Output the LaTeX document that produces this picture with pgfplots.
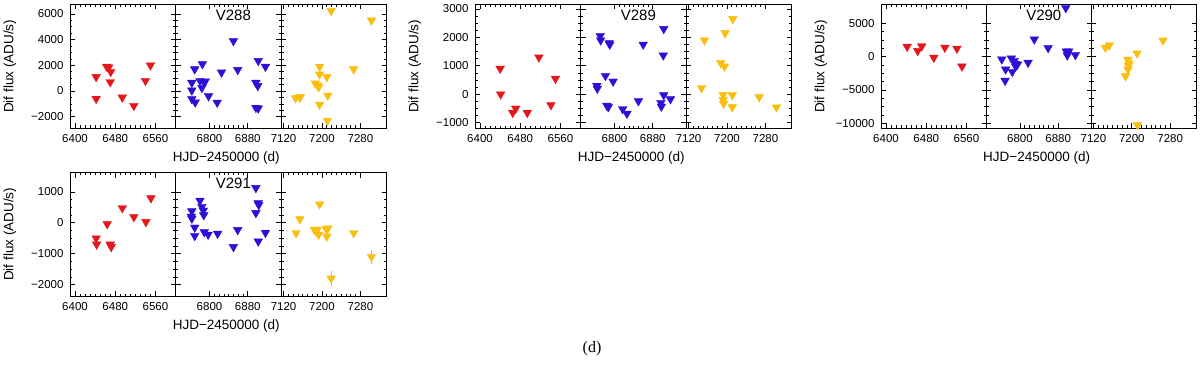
\documentclass[border=0pt]{standalone}
\usepackage{pgfplots}
\pgfplotsset{compat=1.18}
\usepackage{fontspec}
\setmainfont{Liberation Sans}
\newfontfamily\capfont{Liberation Serif}
\definecolor{pred}{RGB}{228,24,28}
\definecolor{pblue}{RGB}{44,16,214}
\definecolor{porange}{RGB}{250,190,16}

\pgfplotsset{
  panel/.style={scale only axis,width=105.6pt,height=123.5pt,anchor=north west,
    clip=false,tick align=inside,axis line style={line width=0.9pt},
    major tick length=5pt,minor tick length=2.5pt,
    every tick/.style={black,line width=0.7pt},
    scaled y ticks=false,scaled x ticks=false,
    tick label style={font=\fontsize{11.5}{13}\selectfont},
    xticklabel style={yshift=-3pt},yticklabel style={xshift=-3pt},
    minor x tick num=7,minor y tick num=3,
    label style={font=\fontsize{13.5}{15}\selectfont},
    title style={at={(0.5,1)},anchor=center,yshift=-17pt,xshift=5pt,
      font=\fontsize{15}{17}\selectfont}},
  pL/.style={panel,xmin=6390,xmax=6600,xtick={6400,6480,6560},
    xticklabels={6400,6480,6560},ylabel={Dif flux (ADU/s)},
    ylabel style={at={(axis description cs:-0.57,0.5)},anchor=center}},
  pM/.style={panel,xmin=6729,xmax=6950,xtick={6800,6880},
    xticklabels={6800,6880},xlabel={HJD−2450000 (d)},
    xlabel style={at={(axis description cs:0.48,0)},anchor=center,yshift=-30pt}},
  pR/.style={panel,xmin=7115,xmax=7335,xtick={7120,7200,7280},
    xticklabels={7120,7200,7280}},
  g288/.style={ymin=-2880,ymax=6740,ytick={-2000,0,2000,4000,6000}},
  g289/.style={ymin=-1187,ymax=3158,ytick={-1000,0,1000,2000,3000}},
  g290/.style={ymin=-10700,ymax=7820,ytick={-10000,-5000,0,5000}},
  g291/.style={ymin=-2370,ymax=1630,ytick={-2000,-1000,0,1000}},
  tri/.style={only marks,mark=triangle*,mark size=5pt,color=#1,
    mark options={rotate=180,draw=#1,fill=#1}},
  errtri/.style={tri=#1,error bars/.cd,y dir=both,y explicit,
    error mark=none,error bar style={color=#1,line width=0.8pt}},
}

\begin{document}
\begin{tikzpicture}
\useasboundingbox (0,0) rectangle (1200pt,-369pt);

% ---- V288
\begin{axis}[pL,g288,at={(70pt,-4.5pt)},yticklabels={−2000,0,2000,4000,6000}]
\addplot[tri=pred] coordinates {(6442,1100) (6442,-600) (6463,1900) (6467,1850)
  (6471,1500) (6470,700) (6494,-500) (6517,-1150) (6540,800) (6550,2000)};
\end{axis}
\begin{axis}[pM,g288,at={(175.6pt,-4.5pt)},title={V288},yticklabels={}]
\addplot[tri=pblue] coordinates {(6763,650) (6763,50) (6763,-620) (6770,-880)
  (6769,1700) (6785,2100) (6780,800) (6788,700) (6784,250) (6791,750)
  (6798,-400) (6816,-900) (6825,1450) (6850,3900) (6859,1650) (6897,650)
  (6901,400) (6902,2350) (6897,-1300) (6902,-1350) (6917,1900)};
\end{axis}
\begin{axis}[pR,g288,at={(281.2pt,-4.5pt)},yticklabels={}]
\addplot[tri=porange] coordinates {(7145,-550) (7153,-500) (7155,-450)
  (7195,1900) (7195,1300) (7186,600) (7191,450) (7193,300) (7195,-1050)
  (7210,1100) (7212,-350) (7211,-2300) (7219,6250) (7266,1700) (7303,5500)};
\end{axis}

% ---- V289
\begin{axis}[pL,g289,at={(475pt,-4.5pt)},yticklabels={−1000,0,1000,2000,3000}]
\addplot[tri=pred] coordinates {(6440,900) (6441,0) (6465,-650) (6471,-500)
  (6494,-650) (6517,1300) (6541,-380) (6550,550)};
\end{axis}
\begin{axis}[pM,g289,at={(580.6pt,-4.5pt)},title={V289},yticklabels={}]
\addplot[tri=pblue] coordinates {(6763,300) (6764,200) (6770,2050) (6771,1900)
  (6789,1800) (6790,1750) (6781,650) (6797,450) (6784,-400) (6787,-450)
  (6817,-520) (6826,-680) (6850,-240) (6860,1750) (6897,-300) (6898,-430)
  (6903,2300) (6902,1370) (6903,-30) (6917,-170)};
\end{axis}
\begin{axis}[pR,g289,at={(686.2pt,-4.5pt)},yticklabels={}]
\addplot[tri=porange] coordinates {(7147,220) (7153,1900) (7187,1100)
  (7195,980) (7196,2150) (7192,-20) (7192,-200) (7193,-330) (7211,-30)
  (7211,-450) (7212,2650) (7267,-100)};
\addplot[errtri=porange] coordinates {(7303,-460) +- (0,90)};
\end{axis}

% ---- V290
\begin{axis}[pL,g290,at={(881pt,-4.5pt)},yticklabels={−10000,−5000,0,5000}]
\addplot[tri=pred] coordinates {(6442,1500) (6463,860) (6471,1560)
  (6495,-150) (6517,1360) (6541,1210) (6551,-1460)};
\end{axis}
\begin{axis}[pM,g290,at={(986pt,-4.5pt)},title={V290},yticklabels={}]
\addplot[tri=pblue] coordinates {(6762,-400) (6770,-1900) (6769,-3600)
  (6782,-250) (6784,-2270) (6788,-650) (6790,-1060) (6795,-1160) (6791,-1460)
  (6817,-900) (6830,2600) (6859,1300) (6896,7300) (6897,800) (6900,700)
  (6899,200) (6902,800) (6916,250)};
\end{axis}
\begin{axis}[pR,g290,at={(1091pt,-4.5pt)},yticklabels={}]
\addplot[tri=porange] coordinates {(7145,1350) (7153,1700) (7192,-450)
  (7194,-960) (7193,-1360) (7192,-1920) (7187,-2930) (7211,500)
  (7212,-10250) (7265,2450)};
\end{axis}

% ---- V291
\begin{axis}[pL,g291,at={(70pt,-172.5pt)},yticklabels={−2000,−1000,0,1000}]
\addplot[tri=pred] coordinates {(6442,-500) (6443,-700) (6464,-40) (6470,-700)
  (6472,-780) (6494,480) (6517,190) (6541,30) (6551,800)};
\end{axis}
\begin{axis}[pM,g291,at={(175.6pt,-172.5pt)},title={V291},yticklabels={}]
\addplot[tri=pblue] coordinates {(6763,380) (6762,200) (6763,140) (6769,-150)
  (6769,-420) (6780,720) (6784,520) (6787,400) (6788,250) (6789,-300)
  (6797,-380) (6817,-350) (6850,-780) (6859,-230) (6897,1130) (6897,320)
  (6902,650) (6903,580) (6902,-600) (6917,-320)};
\end{axis}
\begin{axis}[pR,g291,at={(281.2pt,-172.5pt)},yticklabels={}]
\addplot[tri=porange] coordinates {(7146,-330) (7154,120) (7184,-220)
  (7188,-280) (7190,-220) (7193,-380) (7195,600) (7209,-200) (7212,-180)
  (7210,-440) (7266,-330)};
\addplot[errtri=porange] coordinates {(7219,-1800) +- (0,250)
  (7303,-1100) +- (0,230)};
\end{axis}

\node[font=\capfont\fontsize{16}{18}\selectfont] at (592pt,-349pt) {(d)};
\end{tikzpicture}
\end{document}
